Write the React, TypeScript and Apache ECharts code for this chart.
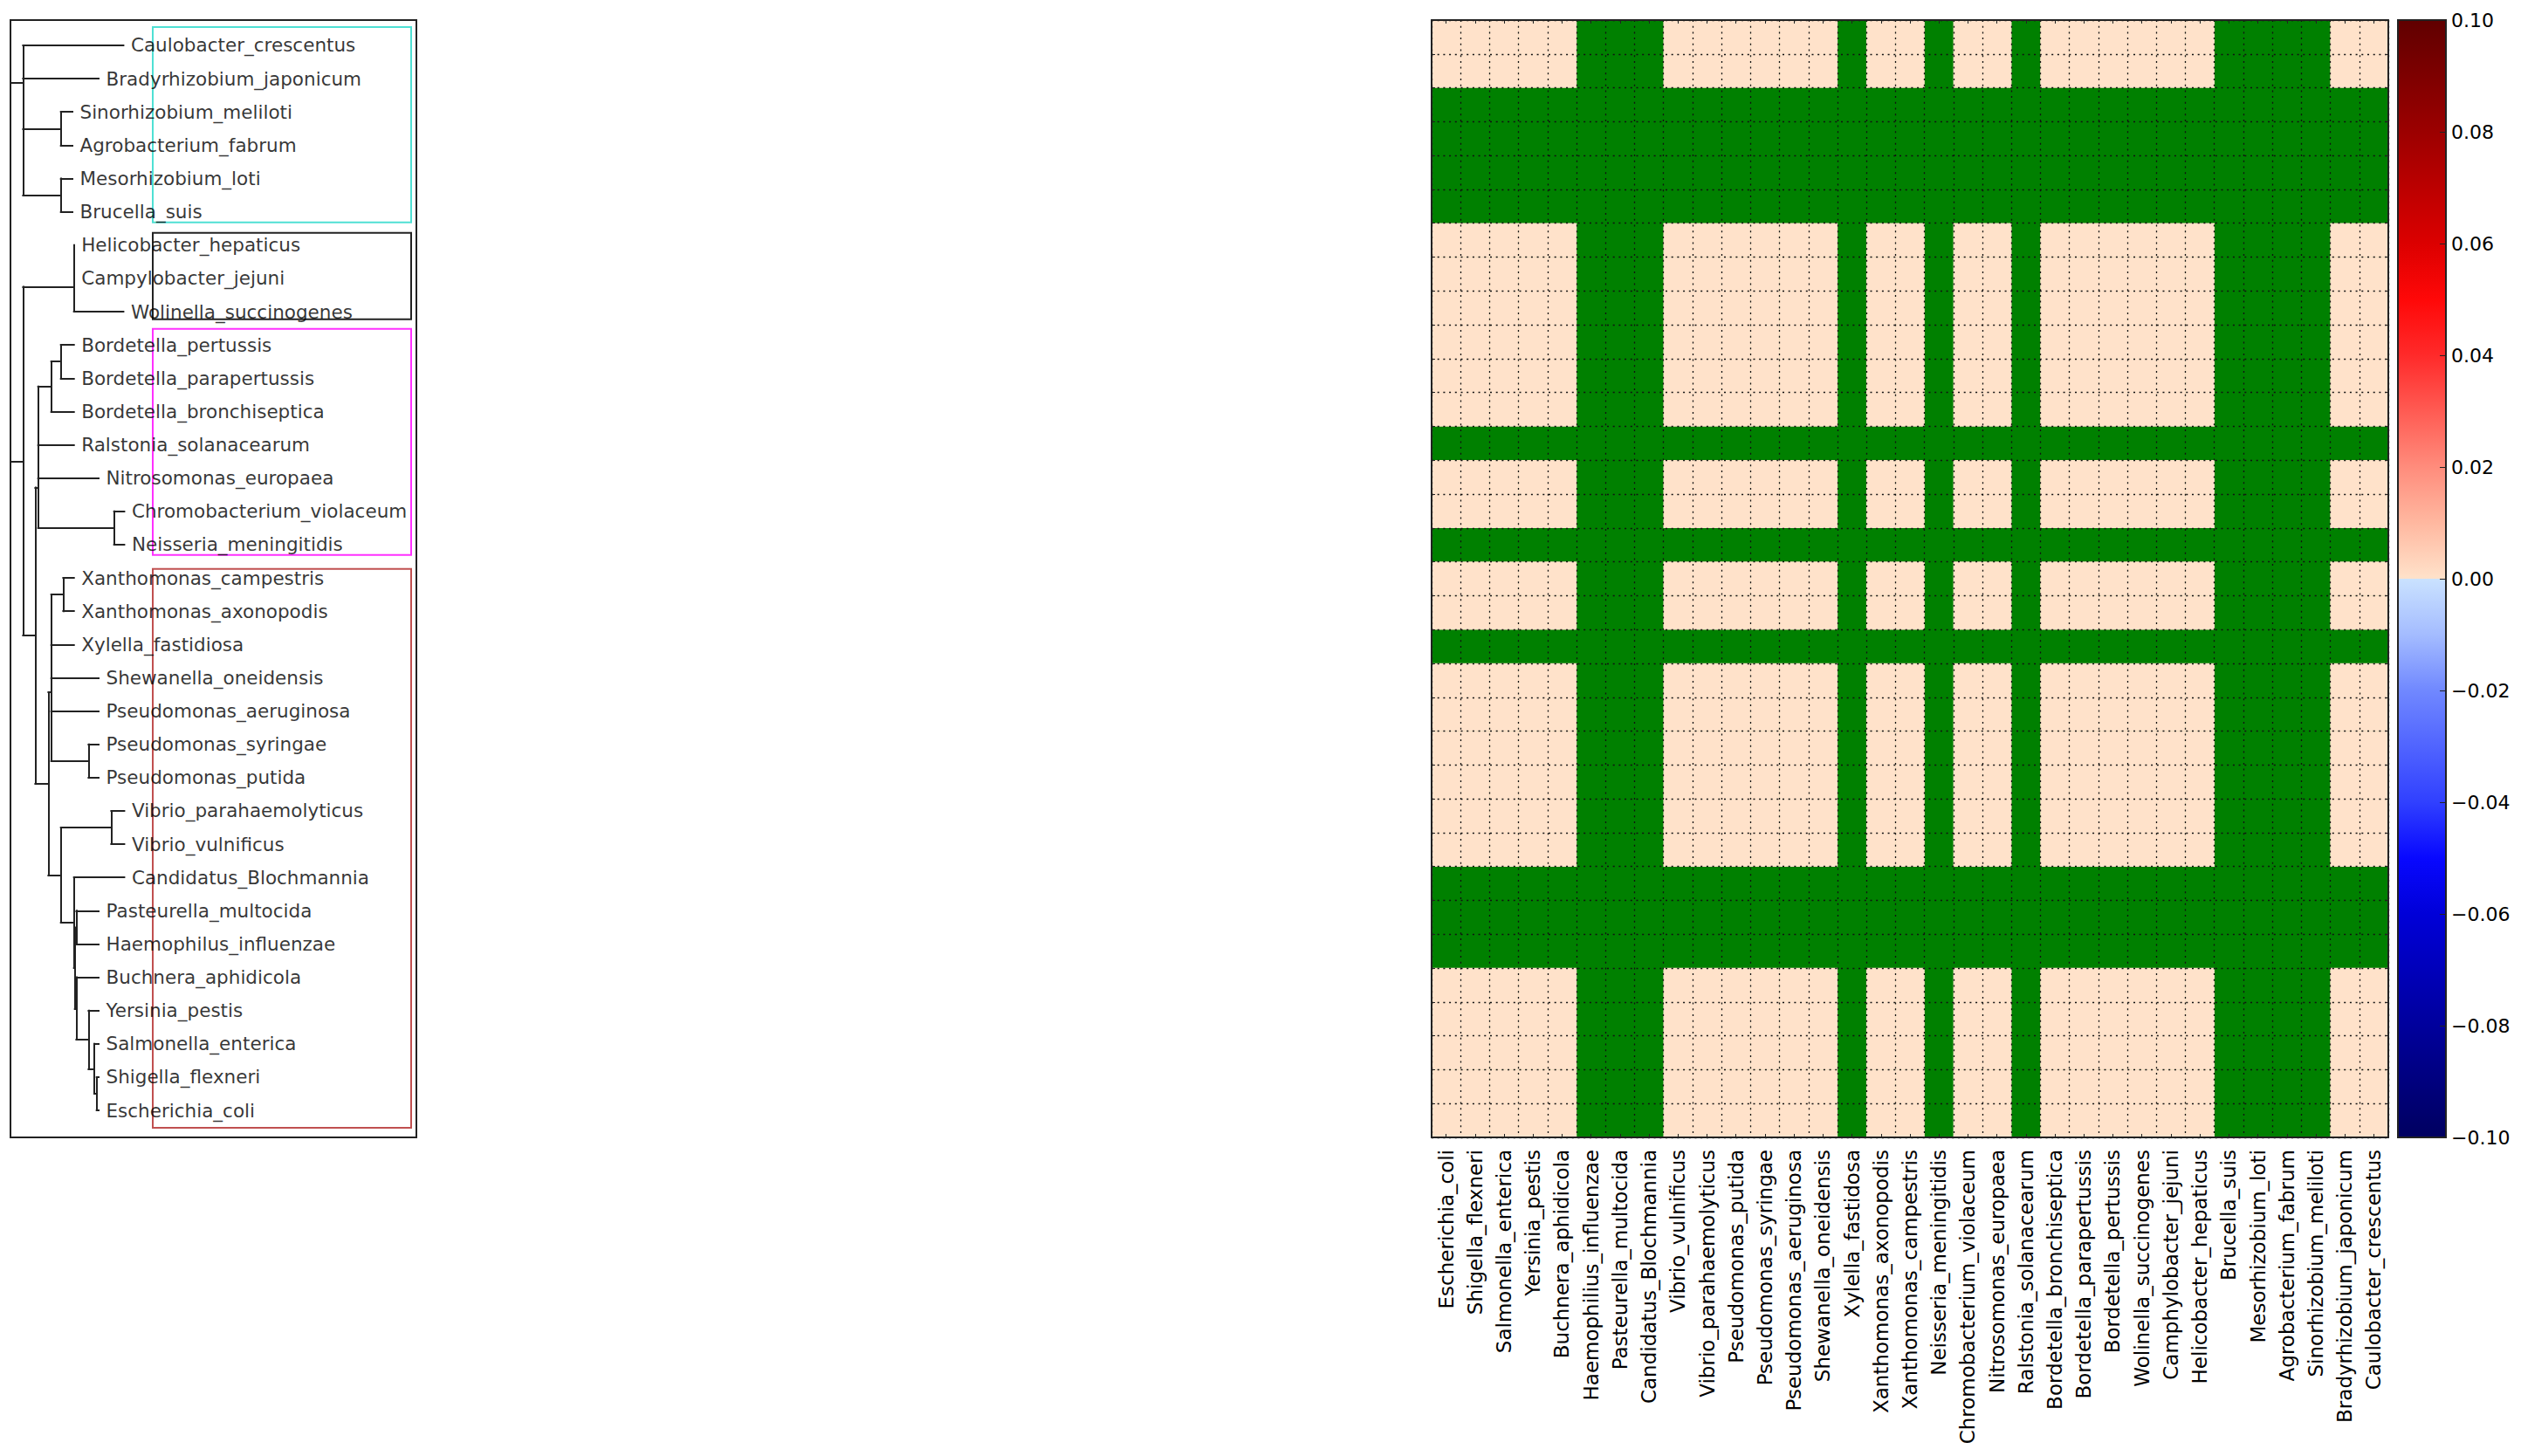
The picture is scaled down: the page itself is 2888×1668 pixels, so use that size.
import React, { useEffect, useRef } from 'react';
import * as echarts from 'echarts';

const FONT = 'DejaVu Sans';

// ---- Dendrogram: d = horizontal position of each node (cumulative depth), n = leaf name
const phyloTree: any = {
  d: 0, c: [
    { d: 14.4, c: [
      { d: 129.4, n: 'Caulobacter_crescentus' },
      { d: 14.4, c: [
        { d: 101, n: 'Bradyrhizobium_japonicum' },
        { d: 14.4, c: [
          { d: 57.7, c: [{ d: 71, n: 'Sinorhizobium_meliloti' }, { d: 71, n: 'Agrobacterium_fabrum' }] },
          { d: 57.7, c: [{ d: 71, n: 'Mesorhizobium_loti' }, { d: 71, n: 'Brucella_suis' }] },
        ] },
      ] },
    ] },
    { d: 14.4, c: [
      { d: 72.7, c: [
        { d: 72.7, c: [{ d: 72.7, n: 'Helicobacter_hepaticus' }, { d: 72.7, n: 'Campylobacter_jejuni' }] },
        { d: 129.4, n: 'Wolinella_succinogenes' },
      ] },
      { d: 28.4, c: [
        { d: 31.7, c: [
          { d: 31.7, c: [
            { d: 31.7, c: [
              { d: 46.7, c: [
                { d: 57.7, c: [{ d: 72.7, n: 'Bordetella_pertussis' }, { d: 72.7, n: 'Bordetella_parapertussis' }] },
                { d: 72.7, n: 'Bordetella_bronchiseptica' },
              ] },
              { d: 72.7, n: 'Ralstonia_solanacearum' },
            ] },
            { d: 101, n: 'Nitrosomonas_europaea' },
          ] },
          { d: 118.7, c: [{ d: 130.4, n: 'Chromobacterium_violaceum' }, { d: 130.4, n: 'Neisseria_meningitidis' }] },
        ] },
        { d: 43.4, c: [
          { d: 46.7, c: [
            { d: 46.7, c: [
              { d: 46.7, c: [
                { d: 60.4, c: [{ d: 72.7, n: 'Xanthomonas_campestris' }, { d: 72.7, n: 'Xanthomonas_axonopodis' }] },
                { d: 72.7, n: 'Xylella_fastidiosa' },
              ] },
              { d: 101, n: 'Shewanella_oneidensis' },
            ] },
            { d: 46.7, c: [
              { d: 101, n: 'Pseudomonas_aeruginosa' },
              { d: 89.4, c: [{ d: 101, n: 'Pseudomonas_syringae' }, { d: 101, n: 'Pseudomonas_putida' }] },
            ] },
          ] },
          { d: 57.7, c: [
            { d: 115.4, c: [{ d: 130.4, n: 'Vibrio_parahaemolyticus' }, { d: 130.4, n: 'Vibrio_vulnificus' }] },
            { d: 72.7, c: [
              { d: 130.4, n: 'Candidatus_Blochmannia' },
              { d: 73.7, c: [
                { d: 75.4, c: [{ d: 101, n: 'Pasteurella_multocida' }, { d: 101, n: 'Haemophilus_influenzae' }] },
                { d: 75.4, c: [
                  { d: 101, n: 'Buchnera_aphidicola' },
                  { d: 89.4, c: [
                    { d: 101, n: 'Yersinia_pestis' },
                    { d: 96, c: [
                      { d: 101, n: 'Salmonella_enterica' },
                      { d: 98.7, c: [{ d: 101, n: 'Shigella_flexneri' }, { d: 101, n: 'Escherichia_coli' }] },
                    ] },
                  ] },
                ] },
              ] },
            ] },
          ] },
        ] },
      ] },
    ] },
  ],
};

// Clade boxes: [x0, y0, x1, y1] in dendrogram data units (x: depth, y: leaf index)
const cladeBoxes = [
  [163, 0.45, 459, 6.32],
  [163, 6.63, 459, 9.23],
  [163, 9.52, 459, 16.31],
  [163, 16.73, 459, 33.52],
];
const cladeBoxColors = ['#4fe0d4', '#222222', '#ff30ff', '#c05050'];

// ---- Heatmap
const heatColumns = [
  'Escherichia_coli', 'Shigella_flexneri', 'Salmonella_enterica', 'Yersinia_pestis',
  'Buchnera_aphidicola', 'Haemophilius_influenzae', 'Pasteurella_multocida', 'Candidatus_Blochmannia',
  'Vibrio_vulnificus', 'Vibrio_parahaemolyticus', 'Pseudomonas_putida', 'Pseudomonas_syringae',
  'Pseudomonas_aeruginosa', 'Shewanella_oneidensis', 'Xylella_fastidosa', 'Xanthomonas_axonopodis',
  'Xanthomonas_campestris', 'Neisseria_meningitidis', 'Chromobacterium_violaceum', 'Nitrosomonas_europaea',
  'Ralstonia_solanacearum', 'Bordetella_bronchiseptica', 'Bordetella_parapertussis', 'Bordetella_pertussis',
  'Wolinella_succinogenes', 'Camphylobacter_jejuni', 'Helicobacter_hepaticus', 'Brucella_suis',
  'Mesorhizobium_loti', 'Agrobacterium_fabrum', 'Sinorhizobium_meliloti', 'Bradyrhizobium_japonicum',
  'Caulobacter_crescentus',
];
const heatRowNames = heatColumns.slice().reverse();
// '0' = value 0.00, '.' = missing (NaN, shows the green background)
const heatRows = [
  '00000...000000.00.00.000000....00', // Caulobacter
  '00000...000000.00.00.000000....00', // Bradyrhizobium
  '.................................', // Sinorhizobium
  '.................................', // Agrobacterium
  '.................................', // Mesorhizobium
  '.................................', // Brucella
  '00000...000000.00.00.000000....00', // Helicobacter
  '00000...000000.00.00.000000....00', // Campylobacter
  '00000...000000.00.00.000000....00', // Wolinella
  '00000...000000.00.00.000000....00', // Bordetella pertussis
  '00000...000000.00.00.000000....00', // Bordetella parapertussis
  '00000...000000.00.00.000000....00', // Bordetella bronchiseptica
  '.................................', // Ralstonia
  '00000...000000.00.00.000000....00', // Nitrosomonas
  '00000...000000.00.00.000000....00', // Chromobacterium
  '.................................', // Neisseria
  '00000...000000.00.00.000000....00', // Xanthomonas campestris
  '00000...000000.00.00.000000....00', // Xanthomonas axonopodis
  '.................................', // Xylella
  '00000...000000.00.00.000000....00', // Shewanella
  '00000...000000.00.00.000000....00', // Pseudomonas aeruginosa
  '00000...000000.00.00.000000....00', // Pseudomonas syringae
  '00000...000000.00.00.000000....00', // Pseudomonas putida
  '00000...000000.00.00.000000....00', // Vibrio parahaemolyticus
  '00000...000000.00.00.000000....00', // Vibrio vulnificus
  '.................................', // Candidatus
  '.................................', // Pasteurella
  '.................................', // Haemophilus
  '00000...000000.00.00.000000....00', // Buchnera
  '00000...000000.00.00.000000....00', // Yersinia
  '00000...000000.00.00.000000....00', // Salmonella
  '00000...000000.00.00.000000....00', // Shigella
  '00000...000000.00.00.000000....00', // Escherichia
];

// ---- Colorbar
const colorbarRange = [-0.1, 0.1];
const colorbarStep = 0.02;

function buildTree() {
  const segs: any[] = [];
  const leaves: any[] = [];
  let k = 0;
  const place = (node: any, parentD: number | null) => {
    if (node.n) {
      k += 1;
      node.y = k;
      leaves.push(node);
    } else {
      node.c.forEach((ch: any) => place(ch, node.d));
      const y0 = node.c[0].y;
      const y1 = node.c[node.c.length - 1].y;
      node.y = (y0 + y1) / 2;
      segs.push([[node.d, y0], [node.d, y1]]);
    }
    if (parentD !== null && parentD !== node.d) segs.push([[parentD, node.y], [node.d, node.y]]);
  };
  place(phyloTree, null);
  return { segs, leaves };
}

function buildOption() {
  const { segs, leaves } = buildTree();
  const heatData: any[] = [];
  heatRows.forEach((row, r) => {
    row.split('').forEach((ch, c) => {
      if (ch !== '.') heatData.push([c, r, Number(ch)]);
    });
  });

  const dotted = { type: [2, 4.7], color: '#111', width: 1.3 };
  const frameLine = { show: true, lineStyle: { color: '#222', width: 2 } };
  const xTick = { show: true, inside: true, alignWithLabel: true, interval: 0, length: 4, lineStyle: { color: '#222', width: 1 } };
  const yTick = { show: true, inside: true, interval: 0, length: 4, lineStyle: { color: '#222', width: 1 } };

  const posGrad = new echarts.graphic.LinearGradient(0, 0, 0, 1, [
    { offset: 0, color: '#600000' },
    { offset: 0.2, color: '#9c0000' },
    { offset: 0.4, color: '#dc0000' },
    { offset: 0.5, color: '#ff0808' },
    { offset: 0.6, color: '#ff2a2a' },
    { offset: 0.8, color: '#ff8c7c' },
    { offset: 0.9, color: '#ffb8a0' },
    { offset: 1, color: '#ffe2ca' },
  ]);
  const negGrad = new echarts.graphic.LinearGradient(0, 0, 0, 1, [
    { offset: 0, color: '#cae2ff' },
    { offset: 0.1, color: '#a4bcff' },
    { offset: 0.2, color: '#7088ff' },
    { offset: 0.4, color: '#3040ff' },
    { offset: 0.5, color: '#0808ff' },
    { offset: 0.6, color: '#0000d8' },
    { offset: 0.8, color: '#00009c' },
    { offset: 1, color: '#000060' },
  ]);

  return {
    animation: false,
    backgroundColor: '#ffffff',
    textStyle: { fontFamily: FONT },
    grid: [
      { left: 12, top: 23, width: 465, height: 1280, show: true, borderColor: '#222', borderWidth: 2, backgroundColor: 'transparent' },
      { left: 1640, top: 23, width: 1096, height: 1280, show: true, borderWidth: 0, backgroundColor: '#008000' },
      { left: 2747, top: 23, width: 55, height: 1280, show: true, borderColor: '#222', borderWidth: 2, backgroundColor: 'transparent', z: 10 },
    ],
    xAxis: [
      { gridIndex: 0, type: 'value', min: 0, max: 465, show: false },
      {
        gridIndex: 1, type: 'category', data: heatColumns, position: 'bottom', z: 5,
        axisLine: frameLine, axisTick: xTick,
        axisLabel: { show: true, interval: 0, rotate: 90, fontSize: 23, color: '#000', margin: 14, fontFamily: FONT },
        splitLine: { show: true, interval: 0, lineStyle: dotted },
      },
      {
        gridIndex: 1, type: 'category', data: heatColumns, position: 'top', z: 5,
        axisLine: frameLine, axisTick: xTick, axisLabel: { show: false }, splitLine: { show: false },
      },
      { gridIndex: 2, type: 'category', data: ['colorbar'], show: false },
    ],
    yAxis: [
      { gridIndex: 0, type: 'value', min: 0.24, max: 33.81, inverse: true, show: false },
      {
        gridIndex: 1, type: 'category', data: heatRowNames, inverse: true, position: 'left', z: 5,
        axisLine: frameLine, axisTick: yTick, axisLabel: { show: false },
        splitLine: { show: true, interval: 0, lineStyle: dotted },
      },
      {
        gridIndex: 1, type: 'category', data: heatRowNames, inverse: true, position: 'right', z: 5,
        axisLine: frameLine, axisTick: yTick, axisLabel: { show: false }, splitLine: { show: false },
      },
      {
        gridIndex: 2, type: 'value', min: colorbarRange[0], max: colorbarRange[1], interval: colorbarStep,
        position: 'right', z: 11,
        axisLine: { show: false },
        axisTick: { show: true, inside: true, length: 7, lineStyle: { color: '#222', width: 1 } },
        splitLine: { show: false },
        axisLabel: {
          show: true, fontSize: 22, color: '#000', margin: 6, fontFamily: FONT,
          formatter: (v: number) => {
            const r = Math.round(v * 100) / 100;
            return (r < 0 ? '\u2212' : '') + Math.abs(r).toFixed(2);
          },
        },
      },
    ],
    visualMap: {
      type: 'piecewise', show: false, seriesIndex: 3, dimension: 2,
      pieces: [
        { gte: 0, lte: 0.1, color: '#ffe2ca' },
        { gte: -0.1, lt: 0, color: '#cae2ff' },
      ],
    },
    series: [
      {
        type: 'lines', coordinateSystem: 'cartesian2d', xAxisIndex: 0, yAxisIndex: 0,
        polyline: false, silent: true, z: 3,
        lineStyle: { color: '#222', width: 2, opacity: 1, cap: 'square' },
        data: segs.map((s) => ({ coords: s })),
      },
      {
        type: 'scatter', xAxisIndex: 0, yAxisIndex: 0, silent: true, z: 4,
        symbolSize: 1, itemStyle: { color: 'rgba(0,0,0,0)' },
        label: {
          show: true, position: 'right', distance: 8, formatter: '{b}',
          fontSize: 21.5, color: '#000', fontFamily: FONT,
        },
        data: leaves.map((l) => ({ name: l.n, value: [l.d, l.y] })),
      },
      {
        type: 'custom', xAxisIndex: 0, yAxisIndex: 0, silent: true, z: 2,
        renderItem: (params: any, api: any) => {
          const p0 = api.coord([api.value(0), api.value(1)]);
          const p1 = api.coord([api.value(2), api.value(3)]);
          return {
            type: 'rect',
            shape: { x: p0[0], y: p0[1], width: p1[0] - p0[0], height: p1[1] - p0[1] },
            style: { fill: 'none', stroke: cladeBoxColors[params.dataIndex], lineWidth: 2 },
          };
        },
        data: cladeBoxes,
      },
      {
        type: 'heatmap', xAxisIndex: 1, yAxisIndex: 1, silent: true, z: 2,
        itemStyle: { borderWidth: 0 },
        emphasis: { disabled: true },
        data: heatData,
      },
      {
        type: 'bar', xAxisIndex: 3 - 0 - 0, yAxisIndex: 3, silent: true,
        barWidth: '100%', barGap: '-100%',
        itemStyle: { color: posGrad },
        data: [colorbarRange[1]],
      },
      {
        type: 'bar', xAxisIndex: 3, yAxisIndex: 3, silent: true,
        barWidth: '100%', barGap: '-100%',
        itemStyle: { color: negGrad },
        data: [colorbarRange[0]],
      },
    ],
  };
}

export default function App() {
  const ref = useRef<HTMLDivElement>(null);
  useEffect(() => {
    if (!ref.current) return;
    const chart = echarts.init(ref.current, null, { renderer: 'svg' });
    chart.setOption(buildOption() as any);
    return () => chart.dispose();
  }, []);
  return (
    <div
      ref={ref}
      style={{ position: 'absolute', left: 0, top: 0, width: 2888, height: 1668, background: '#fff' }}
    />
  );
}
